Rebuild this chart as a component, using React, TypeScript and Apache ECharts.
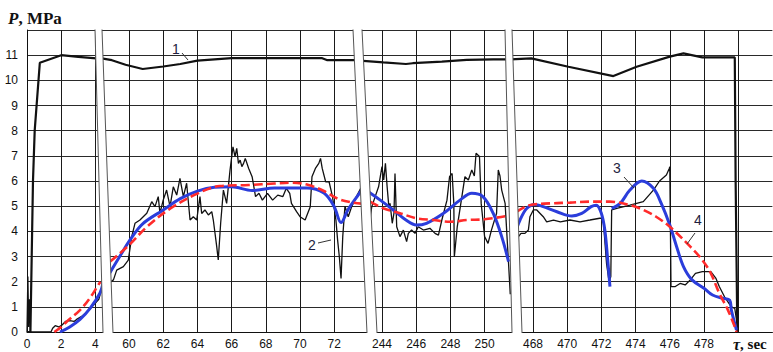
import React, { useEffect, useRef } from "react";
import * as echarts from "echarts";

type Pt = [number, number];

// ---------- tick labels ----------
const yTickLabels = [0, 1, 2, 3, 4, 5, 6, 7, 8, 9, 10, 11];
const xTickLabels: number[][] = [
  [0, 2, 4],
  [60, 62, 64, 66, 68, 70, 72],
  [244, 246, 248, 250],
  [468, 470, 472, 474, 476, 478],
];
const xRanges: [number, number][] = [
  [0, 6],
  [58, 74],
  [242, 252],
  [466, 482],
];

// ---------- curve 1 (black thick) ----------
const curve1Seg1: Pt[] = [[0, 0], [0.2, 0], [0.35, 6], [0.45, 8], [0.75, 10.7], [2.0, 11.0], [3.0, 10.93], [4.05, 10.87]];
const curve1Seg2: Pt[] = [[58.4, 10.87], [59.0, 10.8], [59.8, 10.62], [60.8, 10.45], [62, 10.55], [63, 10.65], [64, 10.78], [66, 10.88], [71.3, 10.88], [71.6, 10.8], [73.5, 10.8]];
const curve1Seg3: Pt[] = [[242.7, 10.78], [244.08, 10.71], [245.4, 10.65], [245.8, 10.68], [247.5, 10.74], [248.95, 10.81], [250.5, 10.83], [251.4, 10.83]];
const curve1Seg4: Pt[] = [[466.7, 10.83], [467.9, 10.87], [470.07, 10.54], [472.7, 10.17], [474.06, 10.54], [476.0, 10.94], [476.8, 11.07], [477.9, 10.91], [479.8, 10.91], [479.85, 6], [479.95, 0]];

// ---------- curve 2 (black thin, measured) ----------
const curve2Seg1: Pt[] = [[0, 0], [0.05, 2.2], [0.1, 0.2], [0.15, 1.3], [0.2, 0], [1.4, 0], [1.5, 0.15], [1.65, 0.25], [1.85, 0.2], [2.05, 0.28], [2.25, 0.42], [2.5, 0.45], [2.75, 0.42], [2.9, 0.5], [3.2, 0.62], [3.6, 0.85], [4.0, 1.15], [4.2, 1.3], [4.4, 1.8]];
const curve2Seg2: Pt[] = [[58.79, 1.93], [59.09, 2.07], [59.28, 2.46], [59.67, 2.6], [59.96, 2.86], [60.16, 3.79], [60.35, 4.32], [60.64, 4.45], [61.04, 4.72], [61.33, 5.18], [61.52, 4.98], [61.71, 5.38], [61.81, 4.72], [62.0, 5.24], [62.2, 5.64], [62.4, 4.98], [62.59, 5.77], [62.79, 5.44], [62.98, 6.1], [63.18, 5.38], [63.37, 5.91], [63.57, 4.45], [63.76, 4.58], [63.96, 4.45], [64.15, 5.38], [64.25, 4.71], [64.44, 4.85], [64.64, 4.65], [64.84, 4.78], [64.93, 4.45], [65.13, 3.39], [65.22, 2.86], [65.36, 4.32], [65.52, 5.64], [65.71, 5.11], [65.91, 6.44], [66.08, 7.36], [66.2, 6.97], [66.3, 7.3], [66.4, 6.7], [66.5, 6.83], [66.6, 6.57], [66.7, 6.7], [66.8, 6.9], [67.0, 6.5], [67.2, 6.17], [67.4, 5.38], [67.6, 5.51], [67.8, 5.24], [68.1, 5.51], [68.4, 5.24], [68.7, 5.44], [69.0, 5.38], [69.2, 5.71], [69.4, 5.51], [69.5, 5.11], [69.8, 4.78], [70.0, 4.58], [70.3, 4.45], [70.6, 4.98], [70.7, 6.17], [70.9, 6.5], [71.1, 6.7], [71.2, 6.9], [71.3, 6.5], [71.5, 5.97], [71.7, 5.97], [71.9, 5.38], [72.1, 4.45], [72.2, 3.65], [72.3, 2.99], [72.4, 2.13], [72.5, 3.79], [72.63, 5.0], [72.82, 4.58], [73.02, 4.98], [73.3, 5.38], [73.55, 5.71]];
const curve2Seg3: Pt[] = [[243.2, 5.04], [243.3, 4.45], [243.4, 4.98], [243.6, 5.38], [243.8, 5.77], [243.9, 6.17], [244.0, 6.57], [244.1, 6.04], [244.2, 6.7], [244.3, 5.77], [244.4, 4.98], [244.47, 5.11], [244.6, 4.32], [244.7, 4.72], [244.76, 6.3], [244.86, 4.18], [245.05, 3.79], [245.25, 4.05], [245.44, 3.59], [245.54, 3.92], [245.73, 4.05], [245.93, 3.92], [246.12, 4.18], [246.42, 4.05], [246.8, 4.12], [247.1, 3.92], [247.3, 3.85], [247.5, 4.45], [247.8, 5.24], [247.95, 6.17], [248.1, 6.3], [248.2, 5.11], [248.23, 2.99], [248.4, 4.18], [248.7, 5.51], [248.85, 6.17], [249.05, 6.04], [249.25, 6.44], [249.4, 6.2], [249.5, 7.1], [249.7, 6.97], [249.8, 5.11], [250.0, 3.79], [250.2, 3.52], [250.4, 4.05], [250.7, 4.72], [250.8, 6.44], [250.9, 6.2], [251.0, 5.64], [251.2, 5.11], [251.4, 2.73], [251.5, 1.5]];
const curve2Seg4: Pt[] = [[466.95, 3.39], [467.05, 3.26], [467.15, 3.79], [467.3, 3.92], [467.53, 3.92], [467.73, 4.05], [467.82, 4.58], [468.02, 4.85], [468.22, 4.85], [468.6, 4.58], [468.8, 4.38], [469.2, 4.45], [469.6, 4.38], [470.16, 4.45], [470.75, 4.38], [471.33, 4.45], [471.9, 4.52], [472.1, 4.52], [472.3, 2.73], [472.45, 2.0], [472.55, 2.2], [472.6, 4.85], [472.9, 4.91], [473.67, 5.04], [474.45, 5.18], [475.04, 5.64], [475.4, 6.0], [475.8, 6.24], [475.97, 6.5], [476.0, 6.57], [476.07, 1.8], [476.3, 1.8], [476.6, 1.93], [476.9, 1.87], [477.2, 2.07], [477.5, 2.33], [477.9, 2.4], [478.4, 2.4], [478.7, 2.13], [478.9, 1.8], [479.2, 1.4], [479.6, 1.0], [479.8, 0.94], [479.9, 0.48], [480.0, 0]];

// ---------- curve 3 (blue) ----------
const curve3Seg1: Pt[] = [[1.93, 0], [2.5, 0.2], [3.1, 0.5], [3.7, 0.95], [4.27, 1.55], [4.45, 1.95]];
const curve3Seg2: Pt[] = [[58.8, 2.26], [59.5, 3.05], [60.1, 3.7], [60.8, 4.3], [62, 4.85], [63, 5.3], [64, 5.6], [65, 5.75], [66, 5.77], [67.2, 5.62], [68.5, 5.72], [70.4, 5.72], [71.4, 5.52], [72.0, 4.98], [72.4, 4.35], [72.8, 4.85], [73.4, 5.44], [73.7, 5.72]];
const curve3Seg3: Pt[] = [[243.2, 5.57], [243.9, 5.24], [244.66, 4.85], [245.4, 4.45], [246.0, 4.25], [246.6, 4.32], [247.6, 4.72], [248.56, 5.24], [249.25, 5.51], [249.9, 5.38], [250.5, 4.72], [251.0, 3.79], [251.4, 2.8]];
const curve3Seg4a: Pt[] = [[466.95, 3.92], [467.24, 4.45], [467.63, 4.91], [468.12, 5.07], [468.6, 4.98], [469.4, 4.78], [470.27, 4.61], [470.85, 4.71], [471.4, 4.98], [471.7, 5.04], [472.0, 4.71], [472.2, 4.05], [472.37, 2.86], [472.5, 1.8]];
const curve3Seg4b: Pt[] = [[472.6, 4.91], [473.1, 5.11], [473.67, 5.64], [474.36, 6.0], [475.04, 5.71], [475.5, 5.11], [476.0, 4.25], [476.4, 3.39], [476.8, 2.6], [477.3, 2.07], [478.0, 1.74], [478.5, 1.47], [479.1, 1.34], [479.5, 1.27], [479.6, 0.87], [479.9, 0.08]];

// ---------- curve 4 (red dashed) ----------
const curve4Seg1: Pt[] = [[1.6, 0], [2.0, 0.2], [2.32, 0.41], [3.1, 0.87], [3.68, 1.35], [4.17, 1.87], [4.3, 2.0]];
const curve4Seg2: Pt[] = [[58.9, 2.8], [60, 3.45], [61, 4.15], [62.4, 4.9], [64, 5.5], [65.3, 5.8], [67, 5.84], [68.5, 5.9], [69.5, 5.93], [70.5, 5.84], [71.5, 5.57], [72.2, 5.3], [73, 5.15], [73.6, 5.1]];
const curve4Seg3: Pt[] = [[243.3, 5.18], [244.1, 4.91], [245.05, 4.72], [246.0, 4.52], [247.0, 4.45], [248, 4.38], [248.95, 4.45], [250, 4.48], [251.2, 4.6]];
const curve4Seg4: Pt[] = [[467.05, 4.78], [467.8, 5.04], [469.0, 5.11], [470.16, 5.14], [471.3, 5.18], [472.5, 5.18], [473.67, 5.04], [474.45, 4.85], [475.2, 4.58], [476.0, 4.18], [477.2, 3.39], [477.9, 2.86], [478.4, 2.33], [478.9, 1.53], [479.4, 0.87], [479.8, 0.21], [479.9, 0]];

// ---------- layout (pixels) ----------
const PX_PER_SEC = 17.1;
const GRID_TOP = 30;
const GRID_H = 302;
const gridLefts = [27, 94.8, 347.8, 498.8];
const gaps = [
  { tl: 95, tr: 102, bl: 103, br: 113 },
  { tl: 353, tr: 362, bl: 367, br: 377 },
  { tl: 505, tr: 512, bl: 512, br: 522 },
];

const SANS = "'Liberation Sans', Arial, sans-serif";
const SERIF = "'Liberation Serif', 'Times New Roman', serif";
const BLUE = "#2b3ddb";
const RED = "#ff2b2b";

function buildOption() {
  const grid = xRanges.map((r, i) => ({
    left: gridLefts[i],
    top: GRID_TOP,
    width: (r[1] - r[0]) * PX_PER_SEC,
    height: GRID_H,
    containLabel: false,
  }));
  const xAxis = xRanges.map((r, i) => ({
    type: "value",
    gridIndex: i,
    min: r[0],
    max: r[1],
    interval: 2,
    axisLine: { show: true, onZero: false, lineStyle: { color: "#111", width: 1 } },
    axisTick: { show: false },
    axisLabel: {
      show: true,
      margin: 6,
      fontSize: 12,
      fontFamily: SANS,
      color: "#111",
      showMinLabel: i === 0,
      showMaxLabel: false,
      formatter: (v: number) => (xTickLabels[i].indexOf(Math.round(v)) >= 0 && Math.abs(v - Math.round(v)) < 1e-6 ? String(Math.round(v)) : ""),
    },
    splitLine: {
      show: true,
      showMinLine: i === 0,
      showMaxLine: false,
      lineStyle: { color: "#1a1a1a", width: 1 },
    },
  }));
  const yAxis = xRanges.map((_, i) => ({
    type: "value",
    gridIndex: i,
    min: 0,
    max: 12,
    interval: 1,
    axisLine: { show: i === 0, lineStyle: { color: "#111", width: 1 } },
    axisTick: { show: false },
    axisLabel: {
      show: i === 0,
      margin: 9,
      fontSize: 12,
      fontFamily: SANS,
      color: "#111",
      formatter: (v: number) => (yTickLabels.indexOf(v) >= 0 ? String(v) : ""),
    },
    splitLine: { show: true, lineStyle: { color: "#2a2a2a", width: 1 } },
  }));

  const c1 = [curve1Seg1, curve1Seg2, curve1Seg3, curve1Seg4];
  const c2 = [curve2Seg1, curve2Seg2, curve2Seg3, curve2Seg4];
  const c3: Pt[][][] = [[curve3Seg1], [curve3Seg2], [curve3Seg3], [curve3Seg4a, curve3Seg4b]];
  const c4 = [curve4Seg1, curve4Seg2, curve4Seg3, curve4Seg4];

  const series: any[] = [];
  for (let i = 0; i < 4; i++) {
    series.push({
      type: "line", xAxisIndex: i, yAxisIndex: i, data: c2[i], showSymbol: false, symbol: "none", z: 2,
      lineStyle: { color: "#111", width: 1.3 },
    });
    series.push({
      type: "line", xAxisIndex: i, yAxisIndex: i, data: c1[i], showSymbol: false, symbol: "none", z: 3,
      lineStyle: { color: "#111", width: 2.2 },
    });
    c3[i].forEach((d) =>
      series.push({
        type: "line", xAxisIndex: i, yAxisIndex: i, data: d, showSymbol: false, symbol: "none", smooth: 0.35, z: 4,
        lineStyle: { color: BLUE, width: 3 },
      })
    );
    series.push({
      type: "line", xAxisIndex: i, yAxisIndex: i, data: c4[i], showSymbol: false, symbol: "none", smooth: 0.35, z: 5,
      lineStyle: { color: RED, width: 2.6, type: [9, 4] },
    });
  }

  const graphic: any[] = [];
  const yT = 29.5;
  const yB = 333;
  gaps.forEach((g) => {
    graphic.push({
      type: "polygon", z: 100,
      shape: { points: [[g.tl, yT], [g.tr, yT], [g.br, yB], [g.bl, yB]] },
      style: { fill: "#ffffff", stroke: null },
    });
    graphic.push({ type: "line", z: 101, shape: { x1: g.tl, y1: yT, x2: g.bl, y2: yB }, style: { stroke: "#555", lineWidth: 1 } });
    graphic.push({ type: "line", z: 101, shape: { x1: g.tr, y1: yT, x2: g.br, y2: yB }, style: { stroke: "#555", lineWidth: 1 } });
  });

  const labelStyle = { fontSize: 14, fontFamily: SANS, fill: "#1e1e40" };
  const annotations = [
    { t: "1", x: 176, y: 49, l: [182, 53, 188, 60] },
    { t: "2", x: 312, y: 245, l: [318, 243, 331, 240] },
    { t: "3", x: 617, y: 168, l: [624, 177, 634, 188] },
    { t: "4", x: 698, y: 220, l: [695, 233, 687, 244] },
  ];
  annotations.forEach((a) => {
    graphic.push({ type: "text", z: 110, x: a.x, y: a.y, style: { ...labelStyle, text: a.t, textAlign: "center", textVerticalAlign: "middle" } });
    graphic.push({ type: "line", z: 110, shape: { x1: a.l[0], y1: a.l[1], x2: a.l[2], y2: a.l[3] }, style: { stroke: "#333", lineWidth: 1 } });
  });

  graphic.push({
    type: "text", z: 110, x: 8, y: 18,
    style: {
      text: "{a|P}{b|, MPa}",
      textVerticalAlign: "middle",
      rich: {
        a: { fontFamily: SERIF, fontSize: 17, fontStyle: "italic", fontWeight: "bold", fill: "#111" },
        b: { fontFamily: SERIF, fontSize: 17, fontWeight: "bold", fill: "#111" },
      },
    },
  });
  graphic.push({
    type: "text", z: 110, x: 733, y: 344,
    style: {
      text: "{a|τ}{b|, sec}",
      textVerticalAlign: "middle",
      rich: {
        a: { fontFamily: SERIF, fontSize: 16, fontStyle: "italic", fontWeight: "bold", fill: "#111" },
        b: { fontFamily: SERIF, fontSize: 15, fontWeight: "bold", fill: "#111" },
      },
    },
  });

  return {
    animation: false,
    backgroundColor: "#ffffff",
    grid,
    xAxis,
    yAxis,
    series,
    graphic,
  };
}

export default function App() {
  const ref = useRef<HTMLDivElement>(null);
  useEffect(() => {
    if (!ref.current) return;
    const chart = echarts.init(ref.current, null, { renderer: "svg" });
    chart.setOption(buildOption() as any);
    return () => chart.dispose();
  }, []);
  return <div ref={ref} style={{ position: "fixed", left: 0, top: 0, width: 773, height: 352, background: "#fff" }} />;
}
